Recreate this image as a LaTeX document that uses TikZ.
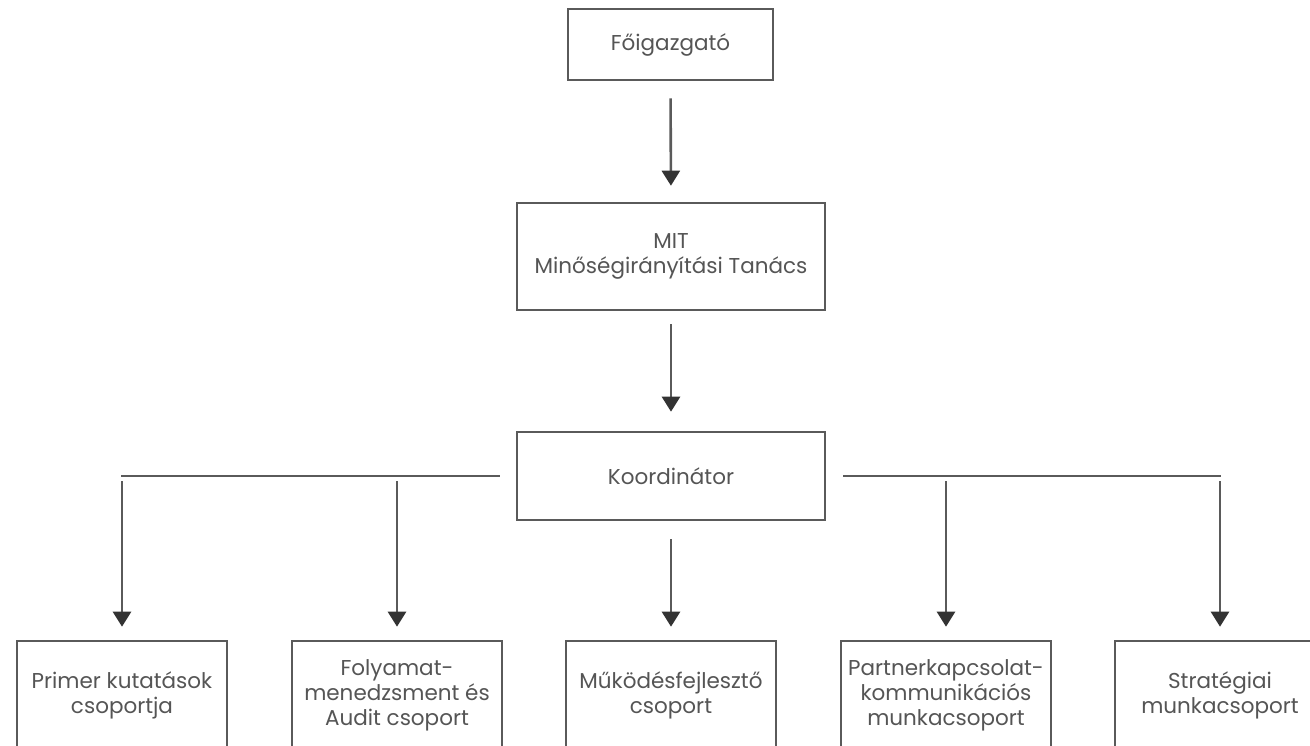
\documentclass[tikz,border=0pt]{standalone}
\usepackage{fontspec}
\setmainfont{Poppins}
\usetikzlibrary{arrows.meta}
\definecolor{txt}{HTML}{555555}
\definecolor{ln}{HTML}{5A5A5A}
\definecolor{tip}{HTML}{333333}
\tikzset{
  box/.style={draw=ln, line width=2.6pt, rectangle, inner sep=0pt, text=txt, align=center,
    font=\fontsize{21.5}{25}\selectfont},
  conn/.style={draw=ln, line width=2.6pt},
  arr/.style={conn, -{Triangle[width=18pt,length=15pt,color=tip]}}
}
\begin{document}
\begin{tikzpicture}[x=1pt,y=-1pt]
\useasboundingbox (0,0) rectangle (1310,745);
\clip (0,0) rectangle (1310,745);
\fill[white] (0,0) rectangle (1310,745);
\node[box, minimum width=205pt, minimum height=71pt] (top) at (670.5,44.5) {Főigazgató};
\node[box, minimum width=308pt, minimum height=107pt] (mit) at (671,256.5) {MIT\\Minőségirányítási Tanács};
\node[box, minimum width=308pt, minimum height=88pt] (koord) at (671,476) {Koordinátor};
\node[box, minimum width=210pt, minimum height=109pt] (p1) at (122,695.5) {Primer kutatások\\csoportja};
\node[box, minimum width=210pt, minimum height=109pt] (p2) at (397,695.5) {Folyamat-\\menedzsment és\\Audit csoport};
\node[box, minimum width=210pt, minimum height=109pt] (p3) at (671,695.5) {Működésfejlesztő\\csoport};
\node[box, minimum width=210pt, minimum height=109pt] (p4) at (946,695.5) {Partnerkapcsolat-\\kommunikációs\\munkacsoport};
\node[box, minimum width=210pt, minimum height=109pt] (p5) at (1220,695.5) {Stratégiai\\munkacsoport};
\coordinate (hl) at (121,476);
\coordinate (hr) at (1221,476);
\draw[arr, shorten <=17pt, shorten >=16pt] (top.south) -- (mit.north);
\draw[arr, shorten <=13pt, shorten >=19pt] (mit.south) -- (koord.north);
\draw[conn] ([xshift=-16pt]koord.west) -- (hl);
\draw[conn] ([xshift=17pt]koord.east) -- (hr);
\draw[arr, shorten <=5pt, shorten >=13pt] (p1.north |- hl) -- (p1.north);
\draw[arr, shorten <=5pt, shorten >=13pt] (p2.north |- hl) -- (p2.north);
\draw[arr, shorten <=18pt, shorten >=13pt] (koord.south) -- (p3.north);
\draw[arr, shorten <=5pt, shorten >=13pt] (p4.north |- hr) -- (p4.north);
\draw[arr, shorten <=5pt, shorten >=13pt] (p5.north |- hr) -- (p5.north);
\end{tikzpicture}
\end{document}
